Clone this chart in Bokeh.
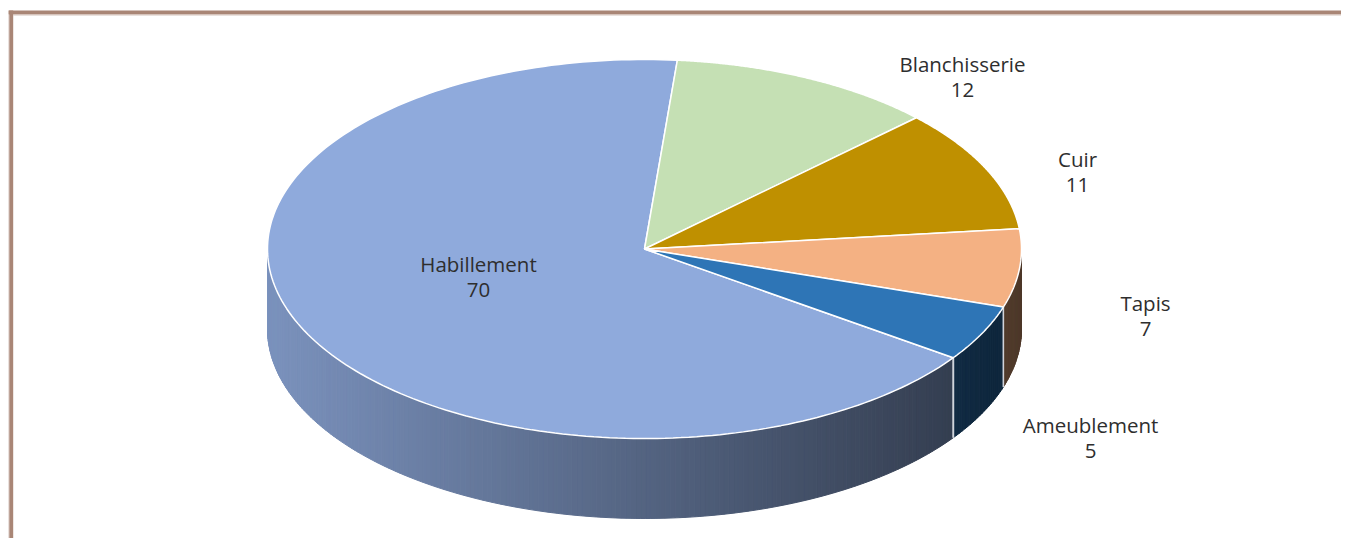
import numpy as np
from bokeh.plotting import figure
from bokeh.models import Range1d, ColumnDataSource
from bokeh.core.properties import value
from bokeh.embed import file_html
from bokeh.resources import INLINE

# ---- data ----
categories = ["Habillement", "Blanchisserie", "Cuir", "Tapis", "Ameublement"]
values = [70, 12, 11, 7, 5]
colors = ["#8faadc", "#c5e0b4", "#bf9000", "#f4b183", "#2e75b6"]

# ---- layout ----
W, H = 1341, 538
CX, CY = 644.0, 248.5
RX, RY = 377.0, 189.5
DEPTH = 80.0
START = 125.0  # first slice start angle, degrees clockwise from 12 o'clock
label_anchor = [(478, 276), (962, 76), (1077, 171), (1145, 315), (1090, 437)]
BORDER = "#a98676"

p = figure(width=W, height=H, output_backend="svg", toolbar_location=None,
           x_range=Range1d(0, W), y_range=Range1d(H, 0),
           x_axis_type=None, y_axis_type=None, min_border=0,
           background_fill_color="white", border_fill_color="white")
p.outline_line_color = None


def pt(theta, dy=0.0):
    t = np.radians(theta)
    return CX + RX * np.sin(t), CY - RY * np.cos(t) + dy


def hex2rgb(h):
    h = h.lstrip("#")
    return tuple(int(h[i:i + 2], 16) for i in (0, 2, 4))


def shade(hexcol, x):
    f = 0.86 - 0.49 * (x - 267.0) / 683.0
    f = min(max(f, 0.3), 0.9)
    r, g, b = hex2rgb(hexcol)
    return "#%02x%02x%02x" % (int(r * f), int(g * f), int(b * f))


total = float(sum(values))
bounds = START + np.cumsum([0] + values) / total * 360.0

# ---- side walls ----
sx, sy, sc = [], [], []
edge_angles = []
for i, col in enumerate(colors):
    a, b = bounds[i], bounds[i + 1]
    for k in (-1, 0, 1):
        lo, hi = max(a, 90 + 360 * k), min(b, 270 + 360 * k)
        if hi <= lo:
            continue
        n = max(2, int((hi - lo) / 0.75) + 1)
        th = np.linspace(lo, hi, n)
        for j in range(n - 1):
            x0, y0 = pt(th[j])
            x1, y1 = pt(th[j + 1])
            sx.append([x0, x1, x1, x0])
            sy.append([y0, y1, y1 + DEPTH, y0 + DEPTH])
            sc.append(shade(col, (x0 + x1) / 2))
        for e in (a, b):
            if 90 + 360 * k < e < 270 + 360 * k:
                edge_angles.append(e)

p.patches(xs="xs", ys="ys", fill_color="c", line_color="c", line_width=1,
          source=ColumnDataSource(dict(xs=sx, ys=sy, c=sc)))

ex, ey = [], []
for e in sorted(set(np.round(edge_angles, 6))):
    x0, y0 = pt(e)
    ex.append([x0, x0])
    ey.append([y0, y0 + DEPTH])
if ex:
    p.multi_line(xs=ex, ys=ey, line_color="#cfd3da", line_width=1.6)

# ---- top faces ----
tx, ty = [], []
for i in range(len(values)):
    th = np.linspace(bounds[i], bounds[i + 1], 200)
    xs, ys = pt(th)
    tx.append([CX] + list(xs))
    ty.append([CY] + list(ys))
p.patches(xs="xs", ys="ys", fill_color="c", line_color="white", line_width=1.5,
          source=ColumnDataSource(dict(xs=tx, ys=ty, c=colors)))

# ---- labels ----
lab = ColumnDataSource(dict(
    x=[a[0] for a in label_anchor], y=[a[1] for a in label_anchor],
    t=["%s\n%d" % (c, v) for c, v in zip(categories, values)]))
p.text(x="x", y="y", text="t", source=lab, text_align="center",
       text_baseline="middle", text_font=value("Open Sans"),
       text_font_size="20.5px", text_color="#2e2e2e", text_line_height=0.9)

# ---- frame border (top and left) ----
p.quad(left=8, right=W, top=10, bottom=14, fill_color=BORDER, line_color=None)
p.quad(left=8.7, right=12.7, top=10, bottom=H, fill_color=BORDER, line_color=None)
p.quad(left=12.7, right=W, top=14, bottom=15, fill_color="#d6c4bc", line_color=None)
p.quad(left=8, right=8.7, top=14, bottom=H, fill_color="#d6c4bc", line_color=None)

open("out.html", "w").write(file_html(p, INLINE))
